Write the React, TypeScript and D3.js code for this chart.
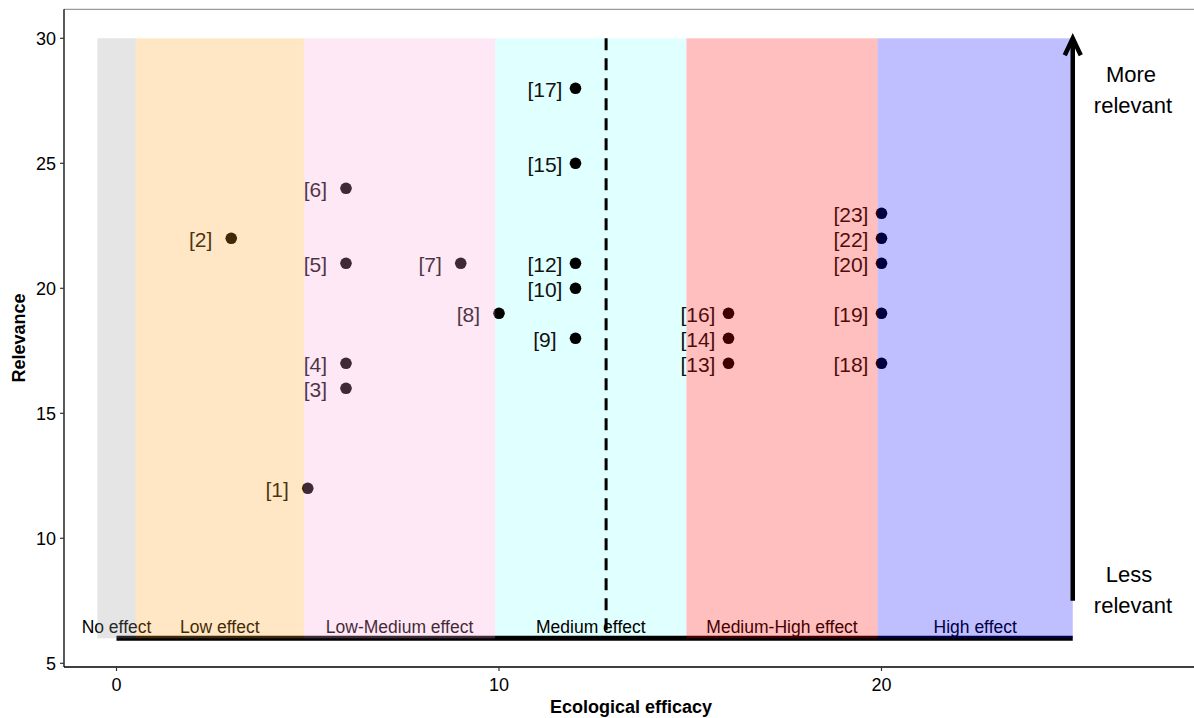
import React from "react";
import * as d3 from "d3";

// ---- data ----
const pointLabels = ["[1]", "[2]", "[3]", "[4]", "[5]", "[6]", "[7]", "[8]", "[9]", "[10]", "[12]", "[15]", "[17]", "[13]", "[14]", "[16]", "[18]", "[19]", "[20]", "[22]", "[23]"];
const efficacy = [5, 3, 6, 6, 6, 6, 9, 10, 12, 12, 12, 12, 12, 16, 16, 16, 20, 20, 20, 20, 20];
const relevance = [12, 22, 16, 17, 21, 24, 21, 19, 18, 20, 21, 25, 28, 17, 18, 19, 17, 19, 21, 22, 23];

const bandNames = ["No effect", "Low effect", "Low-Medium effect", "Medium effect", "Medium-High effect", "High effect"];
const bandStart = [-0.5, 0.5, 4.9, 9.9, 14.9, 19.9];
const bandEnd = [0.5, 4.9, 9.9, 14.9, 19.9, 25];
const bandFill = ["#999999", "#ff9f1b", "#ffa3d7", "#e0ffff", "#ff0000", "#0000ff"];
const bandAlpha = [0.25, 0.25, 0.25, 1, 0.25, 0.25];
const bandUnder = [false, false, false, true, false, false];
const bandBottom = 6;
const bandTop = 30;

const xTicks = [0, 10, 20];
const yTicks = [5, 10, 15, 20, 25, 30];
const thresholdX = 12.8;
const arrowFrom = 7.5;
const arrowTo = 30;
const arrowX = 25;

const FONT = "'Liberation Sans', Arial, sans-serif";

export default function App() {
  const W = 1194;
  const H = 718;
  const x = d3.scaleLinear().domain([0, 20]).range([116.5, 881.5]);
  const y = d3.scaleLinear().domain([5, 30]).range([663.3, 38.3]);
  const axisLeftX = 64;
  const axisBottomY = 667;
  const panelTop = 9.3;

  const ax = x(arrowX);
  const aTop = y(arrowTo);

  const bandRect = (i: number) => (
    <rect key={"b" + i} x={x(bandStart[i])} y={y(bandTop)} width={x(bandEnd[i]) - x(bandStart[i])} height={y(bandBottom) - y(bandTop)} fill={bandFill[i]} fillOpacity={bandAlpha[i]} />
  );

  return (
    <svg width={W} height={H} style={{ position: "absolute", left: 0, top: 0, background: "#fff" }} fontFamily={FONT}>
      {/* bands drawn beneath the marks */}
      {bandNames.map((n, i) => (bandUnder[i] ? bandRect(i) : null))}
      {/* bottom thick line */}
      <line x1={x(0)} x2={x(arrowX)} y1={y(bandBottom)} y2={y(bandBottom)} stroke="#000" strokeWidth={5} />
      {/* points */}
      {efficacy.map((e, i) => (
        <circle key={"p" + i} cx={x(e)} cy={y(relevance[i])} r={5.8} fill="#000" />
      ))}
      {/* point labels */}
      {efficacy.map((e, i) => (
        <text key={"t" + i} x={x(e - 0.8)} y={y(relevance[i])} dy="0.42em" textAnchor="middle" fontSize={21} fill="#111">
          {pointLabels[i]}
        </text>
      ))}
      {/* band labels */}
      {bandNames.map((n, i) => (
        <text key={"bl" + i} x={x(i === 0 ? 0 : (bandStart[i] + bandEnd[i]) / 2)} y={y(bandBottom) - 5} textAnchor="middle" fontSize={17.5} fill="#000">
          {n}
        </text>
      ))}
      {/* translucent bands over the marks */}
      {bandNames.map((n, i) => (bandUnder[i] ? null : bandRect(i)))}
      {/* dashed threshold */}
      <line x1={x(thresholdX)} x2={x(thresholdX)} y1={y(bandTop)} y2={y(bandBottom)} stroke="#000" strokeWidth={3} strokeDasharray="12 8" />
      {/* arrow */}
      <line x1={ax} x2={ax} y1={y(arrowFrom)} y2={aTop + 2} stroke="#000" strokeWidth={4.5} />
      <path d={`M${ax - 8},${aTop + 17} L${ax},${aTop} L${ax + 8},${aTop + 17}`} fill="none" stroke="#000" strokeWidth={4.5} strokeLinejoin="miter" />
      {/* relevance annotations */}
      <text x={1131} textAnchor="middle" fontSize={22} fill="#000">
        <tspan x={1131} y={82}>More</tspan>
        <tspan x={1133} y={113}>relevant</tspan>
      </text>
      <text x={1131} textAnchor="middle" fontSize={22} fill="#000">
        <tspan x={1129} y={582}>Less</tspan>
        <tspan x={1133} y={613}>relevant</tspan>
      </text>
      {/* top border */}
      <line x1={axisLeftX} x2={W} y1={panelTop} y2={panelTop} stroke="#9a9a9a" strokeWidth={1.3} />
      {/* axes */}
      <line x1={axisLeftX} x2={axisLeftX} y1={panelTop} y2={axisBottomY} stroke="#000" strokeWidth={1.3} />
      <line x1={axisLeftX} x2={W} y1={axisBottomY} y2={axisBottomY} stroke="#000" strokeWidth={1.3} />
      {yTicks.map((t) => (
        <g key={"yt" + t}>
          <line x1={axisLeftX - 4} x2={axisLeftX} y1={y(t)} y2={y(t)} stroke="#333" strokeWidth={1.2} />
          <text x={axisLeftX - 8} y={y(t)} dy="0.36em" textAnchor="end" fontSize={18} fill="#000">{t}</text>
        </g>
      ))}
      {xTicks.map((t) => (
        <g key={"xt" + t}>
          <line x1={x(t)} x2={x(t)} y1={axisBottomY} y2={axisBottomY + 4} stroke="#333" strokeWidth={1.2} />
          <text x={x(t)} y={691} textAnchor="middle" fontSize={18} fill="#000">{t}</text>
        </g>
      ))}
      <text x={631} y={713} textAnchor="middle" fontSize={18} fontWeight="bold" fill="#000">Ecological efficacy</text>
      <text transform={`translate(25,338) rotate(-90)`} textAnchor="middle" fontSize={18} fontWeight="bold" fill="#000">Relevance</text>
    </svg>
  );
}
